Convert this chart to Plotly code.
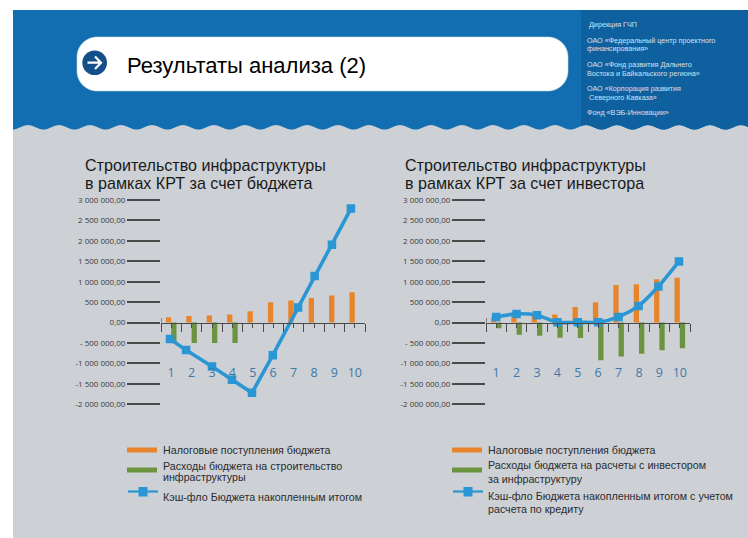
import math
import plotly.graph_objects as go

W, H = 748, 538

categories = [1, 2, 3, 4, 5, 6, 7, 8, 9, 10]
y_tick_vals = [3000000, 2500000, 2000000, 1500000, 1000000, 500000, 0, -500000, -1000000, -1500000, -2000000]
y_tick_text = ["3 000 000,00", "2 500 000,00", "2 000 000,00", "1 500 000,00", "1 000 000,00", "500 000,00",
               "0,00", "- 500 000,00", "-1 000 000,00", "-1 500 000,00", "-2 000 000,00"]

left_tax = [130000, 160000, 175000, 200000, 280000, 500000, 540000, 600000, 660000, 740000]
left_spend = [-500000, -500000, -500000, -500000, None, None, None, None, None, None]
left_cash_x = [0.94, 1.73, 3.0, 3.98, 4.96, 5.98, 7.22, 8.03, 8.88, 9.81]
left_cash = [-404000, -674000, -1074000, -1400000, -1720000, -797000, 372000, 1140000, 1907000, 2790000]

right_tax = [130000, 200000, 180000, 200000, 380000, 500000, 920000, 940000, 1060000, 1100000]
right_spend = [-140000, -300000, -320000, -370000, -380000, -920000, -830000, -760000, -680000, -630000]
right_cash_x = [1.0, 2.0, 3.0, 4.0, 5.0, 6.0, 7.0, 7.98, 8.95, 9.96]
right_cash = [139000, 212000, 180000, 8000, 8000, 8000, 139000, 408000, 882000, 1495000]

ORANGE, GREEN, BLUE = "#e8842c", "#6c9440", "#2a96d3"
AXIS = "#4a4a4a"
HEAD, PANEL, BG = "#126eb1", "#0f609f", "#cdd1d6"


def X(px):
    return px / W


def Y(py):
    return 1 - py / H


fig = go.Figure()


def add_chart(idx, tax, spend, cash_x, cash, names, shape):
    xa, ya = ("x", "y") if idx == 1 else ("x2", "y2")
    fig.add_bar(x=categories, y=tax, name=names[0], marker=dict(color=ORANGE, line_width=0),
                xaxis=xa, yaxis=ya, offsetgroup="a", showlegend=False)
    fig.add_bar(x=categories, y=spend, name=names[1], marker=dict(color=GREEN, line_width=0),
                xaxis=xa, yaxis=ya, offsetgroup="b", showlegend=False)
    fig.add_scatter(x=cash_x, y=cash, name=names[2], mode="lines+markers", xaxis=xa, yaxis=ya,
                    line=dict(color=BLUE, width=3.6, shape=shape, smoothing=0.8),
                    marker=dict(symbol="square", size=8.5, color=BLUE), showlegend=False)


add_chart(1, left_tax, left_spend, left_cash_x, left_cash,
          ["Налоговые поступления бюджета", "Расходы бюджета на строительство инфраструктуры",
           "Кэш-фло Бюджета накопленным итогом"], "linear")
add_chart(2, right_tax, right_spend, right_cash_x, right_cash,
          ["Налоговые поступления бюджета", "Расходы бюджета на расчеты с инвестором за инфраструктуру",
           "Кэш-фло Бюджета накопленным итогом с учетом расчета по кредиту"], "spline")


def xaxis(x0, x1, anchor):
    return dict(domain=[X(x0), X(x1)], range=[0.5, 10.5], anchor="free", position=Y(322.5),
                showgrid=False, zeroline=False, showline=True, linecolor=AXIS, linewidth=1.3,
                tickmode="array", tickvals=categories, ticktext=[str(c) for c in categories],
                ticks="outside", ticklen=4, tickwidth=1.2, tickcolor=AXIS,
                ticklabelstandoff=34,
                minor=dict(ticks="outside", ticklen=8, tickwidth=1.2, tickcolor=AXIS, tick0=0.5, dtick=1),
                tickfont=dict(family="Open Sans", size=12.5, color="#3f78a8"), tickangle=0)


def yaxis(anchor):
    return dict(domain=[Y(404.3), Y(200)], range=[-2000000, 3000000], anchor=anchor,
                showgrid=False, zeroline=False, showline=False,
                tickmode="array", tickvals=y_tick_vals, ticktext=y_tick_text,
                ticks="outside", ticklen=33, tickwidth=1.5, tickcolor=AXIS,
                tickfont=dict(family="Open Sans", size=8, color="#3a3a3a"))


shapes = []


def rect(x0, y0, x1, y1, color):
    shapes.append(dict(type="rect", xref="paper", yref="paper", x0=X(x0), x1=X(x1), y0=Y(y0), y1=Y(y1),
                       fillcolor=color, line_width=0, layer="below"))


def wave_path(x0, x1, top):
    pts = [f"M{X(x0):.5f},{Y(top):.5f}", f"L{X(x1):.5f},{Y(top):.5f}"]
    px = x1
    while px >= x0:
        py = 127.3 - 2.2 * math.cos(2 * math.pi * (px - 28) / 31)
        pts.append(f"L{X(px):.5f},{Y(py):.5f}")
        px -= 1
    return "".join(pts) + "Z"


rect(13, 100, W, H, BG)
shapes.append(dict(type="path", xref="paper", yref="paper", path=wave_path(13, W, 10),
                   fillcolor=HEAD, line_width=0, layer="below"))
shapes.append(dict(type="path", xref="paper", yref="paper", path=wave_path(581, W, 10),
                   fillcolor=PANEL, line_width=0, layer="below"))


def rounded(x0, y0, x1, y1, r):
    k = 0.45 * r
    s = f"M{X(x0+r):.5f},{Y(y0):.5f}L{X(x1-r):.5f},{Y(y0):.5f}"
    s += f"C{X(x1-k):.5f},{Y(y0):.5f} {X(x1):.5f},{Y(y0+k):.5f} {X(x1):.5f},{Y(y0+r):.5f}"
    s += f"L{X(x1):.5f},{Y(y1-r):.5f}"
    s += f"C{X(x1):.5f},{Y(y1-k):.5f} {X(x1-k):.5f},{Y(y1):.5f} {X(x1-r):.5f},{Y(y1):.5f}"
    s += f"L{X(x0+r):.5f},{Y(y1):.5f}"
    s += f"C{X(x0+k):.5f},{Y(y1):.5f} {X(x0):.5f},{Y(y1-k):.5f} {X(x0):.5f},{Y(y1-r):.5f}"
    s += f"L{X(x0):.5f},{Y(y0+r):.5f}"
    s += f"C{X(x0):.5f},{Y(y0+k):.5f} {X(x0+k):.5f},{Y(y0):.5f} {X(x0+r):.5f},{Y(y0):.5f}Z"
    return s


shapes.append(dict(type="path", xref="paper", yref="paper", path=rounded(77, 37, 568, 91, 20),
                   fillcolor="white", line=dict(color="#c9d6e2", width=0.6), layer="below"))
shapes.append(dict(type="circle", xref="paper", yref="paper", x0=X(82.3), x1=X(107), y0=Y(75), y1=Y(50.4),
                   fillcolor="#134f88", line_width=0, layer="below"))
shapes.append(dict(type="path", xref="paper", yref="paper",
                   path=f"M{X(87.5):.5f},{Y(62.7):.5f}L{X(101):.5f},{Y(62.7):.5f}"
                        f"M{X(95):.5f},{Y(56.5):.5f}L{X(101):.5f},{Y(62.7):.5f}L{X(95):.5f},{Y(69):.5f}",
                   line=dict(color="white", width=2.2), layer="below"))


def legend_swatches(x0, x1):
    rect(x0, 447.5, x1, 452.5, ORANGE)
    rect(x0, 467.5, x1, 472.5, GREEN)
    shapes.append(dict(type="line", xref="paper", yref="paper", x0=X(x0 + 1), x1=X(x1 + 1), y0=Y(491.5), y1=Y(491.5),
                       line=dict(color=BLUE, width=2.2), layer="below"))
    xm = (x0 + x1) / 2 + 1
    rect(xm - 4.5, 487, xm + 4.5, 496.5, BLUE)


legend_swatches(127, 157)
legend_swatches(452, 482)

# first long tick of each x axis rises above the axis line
for xr in ("x", "x2"):
    yr = "y" if xr == "x" else "y2"
    shapes.append(dict(type="line", xref=xr, yref=yr, x0=0.5, x1=0.5, y0=0, y1=110000,
                       line=dict(color=AXIS, width=1.2)))

annotations = []


def text(px, py, s, size, color="#1a1a1a", family="Liberation Sans"):
    annotations.append(dict(xref="paper", yref="paper", x=X(px - 2), y=Y(py), text=s, showarrow=False,
                            xanchor="left", yanchor="middle", align="left",
                            font=dict(family=family, size=size, color=color)))


text(127, 65.5, "Результаты анализа (2)", 22, "#000000")

panel_lines = [(589, 25, "Дирекция ГЧП"),
               (587, 40, "ОАО «Федеральный центр проектного"),
               (587, 48.7, "финансирования»"),
               (587, 64.3, "ОАО «Фонд развития Дальнего"),
               (587, 73.3, "Востока и Байкальского региона»"),
               (587, 88.4, "ОАО «Корпорация развития"),
               (589, 97.2, "Северного Кавказа»"),
               (587, 113, "Фонд «ВЭБ-Инновации»")]
for px, py, s in panel_lines:
    text(px, py, s, 7.2, "#d3e2ef")

text(84.5, 165, "Строительство инфраструктуры", 16.1)
text(84.5, 183, "в рамках КРТ за счет бюджета", 16.1)
text(404.5, 165, "Строительство инфраструктуры", 16.1)
text(404.5, 183, "в рамках КРТ за счет инвестора", 16.1)

for px, py, s in [(163, 450, "Налоговые поступления бюджета"),
                  (163, 466, "Расходы бюджета на строительство"),
                  (163, 477, "инфраструктуры"),
                  (163, 497, "Кэш-фло Бюджета накопленным итогом"),
                  (488, 450, "Налоговые поступления бюджета"),
                  (488, 465, "Расходы бюджета на расчеты с инвестором"),
                  (488, 479, "за инфраструктуру"),
                  (488, 496, "Кэш-фло Бюджета накопленным итогом с учетом"),
                  (488, 509, "расчета по кредиту")]:
    text(px, py, s, 10.7, "#2b2b2b")

fig.update_layout(
    width=W, height=H, margin=dict(l=0, r=0, t=0, b=0, autoexpand=False), autosize=False,
    paper_bgcolor="white", plot_bgcolor="rgba(0,0,0,0)",
    barmode="group", bargap=0.48, bargroupgap=0,
    showlegend=False, hovermode=False,
    xaxis=xaxis(161, 365, "y"), xaxis2=xaxis(486, 690, "y2"),
    yaxis=yaxis("x"), yaxis2=yaxis("x2"),
    shapes=shapes, annotations=annotations,
)

fig.write_html("out.html", config=dict(displayModeBar=False),
               post_script="document.body.style.margin='0';document.body.style.overflow='hidden';")
